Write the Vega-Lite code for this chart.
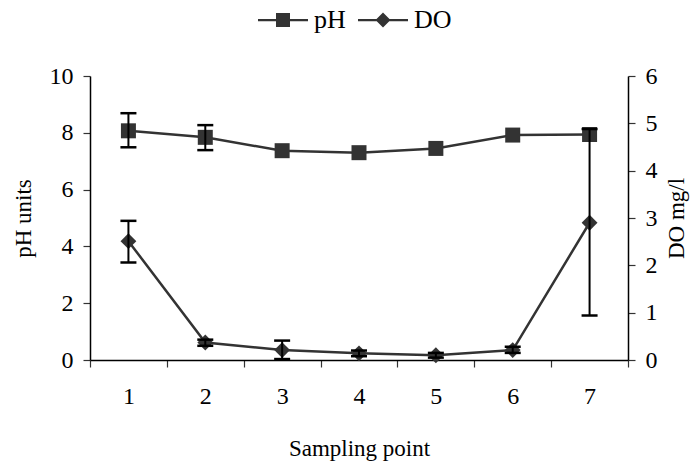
{
  "$schema": "https://vega.github.io/schema/vega-lite/v6.json",
  "width": 538,
  "height": 284,
  "autosize": {"type": "none"},
  "padding": {"left": 90, "top": 76, "right": 68, "bottom": 105},
  "background": "white",
  "config": {
    "font": "Liberation Serif",
    "view": {"stroke": null},
    "axis": {
      "labelFont": "Liberation Serif",
      "titleFont": "Liberation Serif",
      "labelFontSize": 24,
      "titleFontSize": 23,
      "titleFontWeight": "normal",
      "labelColor": "black",
      "titleColor": "black",
      "domainColor": "black",
      "domainWidth": 1.5,
      "tickColor": "#333",
      "tickWidth": 1.2,
      "tickSize": 7,
      "grid": false
    },
    "legend": {"labelFont": "Liberation Serif", "labelFontSize": 26, "labelColor": "black"}
  },
  "data": {
    "values": [
      {"point": "1", "pH": 8.07, "pH_lo": 7.49, "pH_hi": 8.69, "DO": 2.51, "DO_lo": 2.06, "DO_hi": 2.94},
      {"point": "2", "pH": 7.84, "pH_lo": 7.39, "pH_hi": 8.27, "DO": 0.37, "DO_lo": 0.3, "DO_hi": 0.43},
      {"point": "3", "pH": 7.37, "pH_lo": null, "pH_hi": null, "DO": 0.21, "DO_lo": 0.02, "DO_hi": 0.41},
      {"point": "4", "pH": 7.3, "pH_lo": null, "pH_hi": null, "DO": 0.14, "DO_lo": 0.08, "DO_hi": 0.2},
      {"point": "5", "pH": 7.45, "pH_lo": null, "pH_hi": null, "DO": 0.1, "DO_lo": 0.05, "DO_hi": 0.15},
      {"point": "6", "pH": 7.92, "pH_lo": null, "pH_hi": null, "DO": 0.21, "DO_lo": 0.15, "DO_hi": 0.28},
      {"point": "7", "pH": 7.94, "pH_lo": null, "pH_hi": null, "DO": 2.9, "DO_lo": 0.94, "DO_hi": 4.88}
    ]
  },
  "encoding": {
    "x": {
      "field": "point",
      "type": "ordinal",
      "scale": {"type": "band", "paddingInner": 0, "paddingOuter": 0},
      "axis": {"title": "Sampling point", "labelAngle": 0, "tickBand": "extent", "labelPadding": 17, "titlePadding": 29, "tickColor": "#333"}
    }
  },
  "layer": [
    {
      "layer": [
        {
          "mark": {"type": "line", "color": "#333", "strokeWidth": 2.5},
          "encoding": {
            "y": {"field": "pH", "type": "quantitative", "scale": {"domain": [0, 10]},
              "axis": {"title": "pH units", "values": [0, 2, 4, 6, 8, 10], "labelPadding": 10, "titlePadding": 14}}
          }
        },
        {
          "mark": {"type": "point", "shape": "square", "filled": true, "color": "#333", "opacity": 1, "size": 225},
          "encoding": {"y": {"field": "pH", "type": "quantitative"}}
        },
        {
          "transform": [{"filter": "datum.pH_lo != null"}],
          "mark": {"type": "rule", "color": "black", "strokeWidth": 2},
          "encoding": {"y": {"field": "pH_lo", "type": "quantitative"}, "y2": {"field": "pH_hi"}}
        },
        {
          "transform": [{"filter": "datum.pH_lo != null"}],
          "mark": {"type": "tick", "color": "black", "thickness": 2.5, "size": 16, "opacity": 1},
          "encoding": {"y": {"field": "pH_lo", "type": "quantitative"}}
        },
        {
          "transform": [{"filter": "datum.pH_lo != null"}],
          "mark": {"type": "tick", "color": "black", "thickness": 2.5, "size": 16, "opacity": 1},
          "encoding": {"y": {"field": "pH_hi", "type": "quantitative"}}
        }
      ]
    },
    {
      "layer": [
        {
          "mark": {"type": "line", "color": "#333", "strokeWidth": 2.5},
          "encoding": {
            "y": {"field": "DO", "type": "quantitative", "scale": {"domain": [0, 6]},
              "axis": {"orient": "right", "title": "DO mg/l", "titleAngle": 270, "titleBaseline": "top", "values": [0, 1, 2, 3, 4, 5, 6], "labelPadding": 10, "titlePadding": 8}}
          }
        },
        {
          "mark": {"type": "point", "shape": "diamond", "filled": true, "color": "#333", "opacity": 1, "size": 250},
          "encoding": {"y": {"field": "DO", "type": "quantitative"}}
        },
        {
          "mark": {"type": "rule", "color": "black", "strokeWidth": 2},
          "encoding": {"y": {"field": "DO_lo", "type": "quantitative"}, "y2": {"field": "DO_hi"}}
        },
        {
          "mark": {"type": "tick", "color": "black", "thickness": 2.5, "size": 16, "opacity": 1},
          "encoding": {"y": {"field": "DO_lo", "type": "quantitative"}}
        },
        {
          "mark": {"type": "tick", "color": "black", "thickness": 2.5, "size": 16, "opacity": 1},
          "encoding": {"y": {"field": "DO_hi", "type": "quantitative"}}
        },
        {
          "transform": [{"filter": "false"}],
          "mark": {"type": "point", "filled": true, "color": "#333", "opacity": 1},
          "encoding": {
            "y": {"field": "DO", "type": "quantitative"},
            "shape": {
              "datum": "pH",
              "scale": {
                "domain": ["pH", "DO"],
                "range": [
                  "M-1,-0.045H1V0.045H-1Z M-0.28,-0.28H0.28V0.28H-0.28Z",
                  "M-1,-0.045H1V0.045H-1Z M0,-0.3L0.3,0L0,0.3L-0.3,0Z"
                ]
              },
              "legend": {
                "title": null,
                "orient": "none",
                "direction": "horizontal",
                "legendX": 168,
                "legendY": -81,
                "symbolSize": 2500,
                "symbolFillColor": "#333",
                "symbolStrokeWidth": 0,
                "symbolOpacity": 1,
                "labelOffset": 6,
                "columnPadding": 12,
                "padding": 0
              }
            }
          }
        }
      ]
    }
  ],
  "resolve": {"scale": {"y": "independent"}}
}
